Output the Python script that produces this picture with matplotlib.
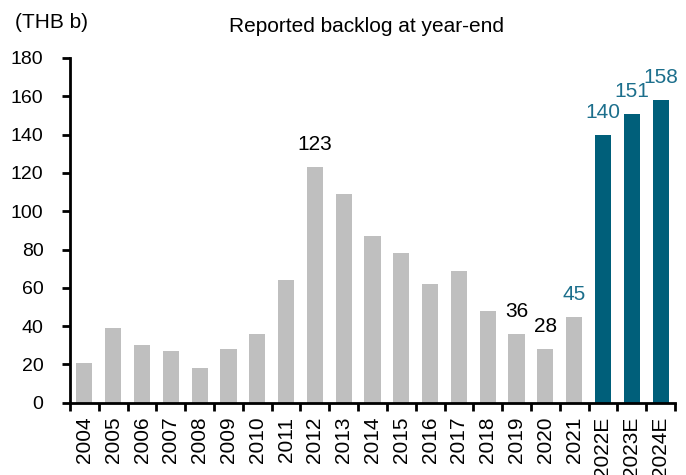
import matplotlib.pyplot as plt
import numpy as np

plt.rcParams['font.family'] = ['Liberation Sans', 'DejaVu Sans']

years = ['2004', '2005', '2006', '2007', '2008', '2009', '2010', '2011', '2012',
         '2013', '2014', '2015', '2016', '2017', '2018', '2019', '2020', '2021',
         '2022E', '2023E', '2024E']
backlog = [21, 39, 30, 27, 18, 28, 36, 64, 123, 109, 87, 78, 62, 69, 48,
           36, 28, 45, 140, 151, 158]
forecast = [False] * 18 + [True] * 3

# bars that get a value label
labelled = ['2012', '2019', '2020', '2021', '2022E', '2023E', '2024E']
teal_labels = ['2021', '2022E', '2023E', '2024E']

grey = '#bfbfbf'
teal = '#005f7a'
teal_txt = '#1c6f8c'

fig = plt.figure(figsize=(6.86, 4.75), dpi=100)
ax = fig.add_axes([0.102, 0.152, 0.882, 0.726])

x = np.arange(len(years))
colors = [teal if f else grey for f in forecast]
ax.bar(x, backlog, width=0.56, color=colors)

for i, (yr, v) in enumerate(zip(years, backlog)):
    if yr in labelled:
        c = teal_txt if yr in teal_labels else 'black'
        ax.annotate(str(v), (i, v), xytext=(0, 12), textcoords='offset points',
                    ha='center', va='baseline', fontsize=15, color=c)

ax.set_xlim(-0.5, len(years) - 0.5)
ax.set_ylim(0, 180)
ax.set_yticks(range(0, 181, 20))
ax.set_xticks(np.arange(-0.5, len(years), 1))
ax.set_xticklabels([])
ax.set_xticks(x, minor=True)
ax.set_xticklabels(years, minor=True, rotation=90)
ax.tick_params(axis='x', which='minor', length=0, pad=10, labelsize=15)
ax.tick_params(axis='x', which='major', length=6, width=2, direction='out')
ax.tick_params(axis='y', length=6, width=2, labelsize=14, pad=13)

for s in ['top', 'right']:
    ax.spines[s].set_visible(False)
for s in ['left', 'bottom']:
    ax.spines[s].set_linewidth(2)

fig.text(0.022, 0.941, '(THB b)', fontsize=15, va='baseline')
fig.text(0.534, 0.933, 'Reported backlog at year-end', fontsize=15,
         ha='center', va='baseline')

fig.savefig('out.png', dpi=100)
